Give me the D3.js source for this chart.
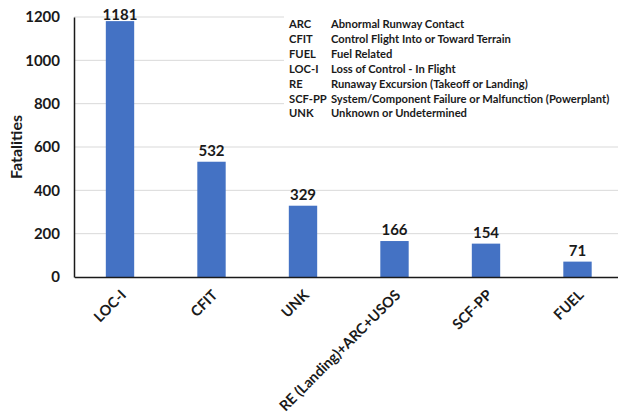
<!DOCTYPE html>
<html><head><meta charset="utf-8">
<script src="https://cdn.jsdelivr.net/npm/d3@7"></script>
<style>body{margin:0;background:#fff}svg{display:block}</style>
</head><body>
<svg id="c" width="618" height="414"></svg>
<script>
const categories = ["LOC-I","CFIT","UNK","RE (Landing)+ARC+USOS","SCF-PP","FUEL"];
const values = [1181,532,329,166,154,71];
const yTicks = [0,200,400,600,800,1000,1200];
const legendCodes = ["ARC","CFIT","FUEL","LOC-I","RE","SCF-PP","UNK"];
const legendDescs = ["Abnormal Runway Contact","Control Flight Into or Toward Terrain","Fuel Related","Loss of Control - In Flight","Runaway Excursion (Takeoff or Landing)","System/Component Failure or Malfunction (Powerplant)","Unknown or Undetermined"];

const svg = d3.select("#c");
const font = "Lato, 'Open Sans', sans-serif";
const x = d3.scaleBand().domain(categories).range([74.25, 623.25]).paddingInner(0.69).paddingOuter(0.345);
const y = d3.scaleLinear().domain([0,1200]).range([277, 17]);

// gridlines
svg.append("g").selectAll("line").data(yTicks.filter(d=>d>0)).join("line")
  .attr("x1", 74).attr("x2", 618).attr("y1", d=>y(d)).attr("y2", d=>y(d))
  .attr("stroke", "#d9d9d9").attr("stroke-width", 1);

// bars
svg.append("g").selectAll("rect").data(values).join("rect")
  .attr("x", (d,i)=>x(categories[i])).attr("width", x.bandwidth())
  .attr("y", d=>y(d)).attr("height", d=>y(0)-y(d))
  .attr("fill", "#4472C4");

// value labels
svg.append("g").selectAll("text").data(values).join("text")
  .attr("x", (d,i)=>x(categories[i]) + x.bandwidth()/2)
  .attr("y", d=>Math.max(y(d)-6, 20))
  .attr("text-anchor","middle").attr("font-family", font).attr("font-weight","bold")
  .attr("font-size", 15).attr("fill","#1a1a1a").text(d=>d);

// axes lines
const yAxis = d3.axisLeft(y).tickValues(yTicks).tickFormat(d3.format("d")).tickSize(0).tickPadding(14);
const gy = svg.append("g").attr("transform","translate(74,0)").call(yAxis);
gy.select(".domain").attr("stroke","#1a1a1a").attr("stroke-width",1.5);
gy.selectAll("text").attr("font-family",font).attr("font-weight","bold").attr("font-size",15).attr("fill","#1a1a1a");

const xAxis = d3.axisBottom(x).tickSize(0).tickPadding(0);
const gx = svg.append("g").attr("transform","translate(0,277)").call(xAxis);
gx.select(".domain").attr("stroke","#1a1a1a").attr("stroke-width",1.5);
gx.selectAll("text").attr("font-family",font).attr("font-weight","bold").attr("font-size",14.5).attr("fill","#1a1a1a")
  .attr("text-anchor","end").attr("dy",null).attr("y",0)
  .attr("transform","translate(7,19) rotate(-45)");

// y label
svg.append("text").attr("transform","translate(22,147) rotate(-90)")
  .attr("text-anchor","middle").attr("font-family",font).attr("font-weight","bold")
  .attr("font-size",16).attr("fill","#1a1a1a").text("Fatalities");

// legend box
svg.append("rect").attr("x",284).attr("y",8).attr("width",334).attr("height",118).attr("fill","#fff");
const lg = svg.append("g").attr("font-family",font).attr("font-weight","bold").attr("font-size",11.2).attr("fill","#1a1a1a");
lg.selectAll("text.code").data(legendCodes).join("text").attr("class","code")
  .attr("x",289).attr("y",(d,i)=>28+i*14.9).text(d=>d);
lg.selectAll("text.desc").data(legendDescs).join("text").attr("class","desc")
  .attr("x",331).attr("y",(d,i)=>28+i*14.9).text(d=>d);
</script>
</body></html>
